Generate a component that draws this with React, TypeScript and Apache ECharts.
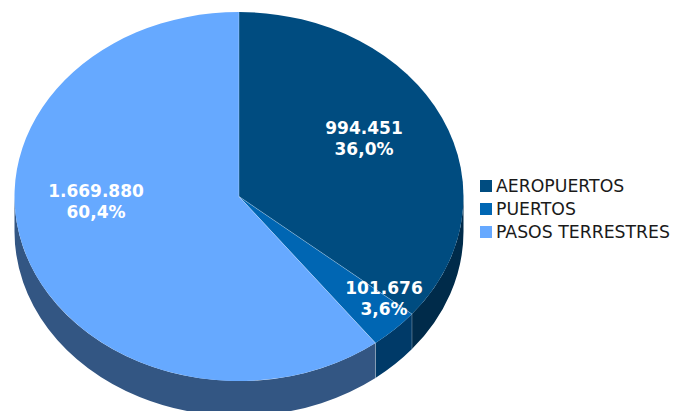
import React, { useEffect, useRef } from "react";
import * as echarts from "echarts";

const categories = ["AEROPUERTOS", "PUERTOS", "PASOS TERRESTRES"];
const values = [994451, 101676, 1669880];
const shares = [36.0, 3.6, 60.4];
const valueLabels = ["994.451", "101.676", "1.669.880"];
const shareLabels = ["36,0%", "3,6%", "60,4%"];
const topColors = ["#004C80", "#0066B3", "#66A9FF"];
const wallColors = ["#002B4A", "#003A68", "#335683"];
const labelAnchors = [
  [364, 138],
  [384, 298],
  [96, 201],
];

const CX = 239;
const CY = 196.5;
const RX = 224.5;
const RY = 184.5;
const DEPTH = 35;
const EDGE = "rgba(255,255,255,0.28)";

const px = (a: number) => CX + RX * Math.sin(a);
const py = (a: number) => CY - RY * Math.cos(a);
const total = shares.reduce((s, v) => s + v, 0);

function sliceAngles(i: number) {
  const before = shares.slice(0, i).reduce((s, v) => s + v, 0);
  return [(before / total) * Math.PI * 2, ((before + shares[i]) / total) * Math.PI * 2];
}

function topPath(a0: number, a1: number) {
  const large = a1 - a0 > Math.PI ? 1 : 0;
  return `M${CX} ${CY}L${px(a0)} ${py(a0)}A${RX} ${RY} 0 ${large} 1 ${px(a1)} ${py(a1)}Z`;
}

function wallPath(a0: number, a1: number) {
  const s = Math.max(a0, Math.PI / 2);
  const e = Math.min(a1, (Math.PI * 3) / 2);
  if (e <= s) return "";
  const large = e - s > Math.PI ? 1 : 0;
  return (
    `M${px(s)} ${py(s)}A${RX} ${RY} 0 ${large} 1 ${px(e)} ${py(e)}` +
    `L${px(e)} ${py(e) + DEPTH}A${RX} ${RY} 0 ${large} 0 ${px(s)} ${py(s) + DEPTH}Z`
  );
}

function renderSlice(i: number) {
  return () => {
    const [a0, a1] = sliceAngles(i);
    const children: any[] = [];
    const wall = wallPath(a0, a1);
    if (wall) {
      children.push({
        type: "path",
        shape: { pathData: wall },
        style: { fill: wallColors[i] },
      });
    }
    children.push({
      type: "path",
      shape: { pathData: topPath(a0, a1) },
      style: { fill: topColors[i] },
    });
    return { type: "group", children };
  };
}

function renderOverlay() {
  const children: any[] = [];
  categories.forEach((_, i) => {
    const [a0] = sliceAngles(i);
    children.push({
      type: "line",
      shape: { x1: CX, y1: CY, x2: px(a0), y2: py(a0) },
      style: { stroke: EDGE, lineWidth: 1 },
    });
    if (a0 > Math.PI / 2 && a0 < (Math.PI * 3) / 2) {
      children.push({
        type: "line",
        shape: { x1: px(a0), y1: py(a0), x2: px(a0), y2: py(a0) + DEPTH },
        style: { stroke: EDGE, lineWidth: 1 },
      });
    }
    const [lx, ly] = labelAnchors[i];
    children.push({
      type: "text",
      x: lx,
      y: ly,
      style: {
        text: `${valueLabels[i]}\n${shareLabels[i]}`,
        fill: "#ffffff",
        font: 'bold 17px "DejaVu Sans"',
        lineHeight: 21,
        align: "center",
        verticalAlign: "middle",
      },
    });
  });
  return { type: "group", children };
}

export default function App() {
  const ref = useRef<HTMLDivElement>(null);
  useEffect(() => {
    document.body.style.margin = "0";
    const chart = echarts.init(ref.current!, undefined, { renderer: "svg" });
    chart.setOption({
      animation: false,
      backgroundColor: "#ffffff",
      legend: {
        orient: "vertical",
        left: 475,
        top: 172,
        itemWidth: 12,
        itemHeight: 12,
        itemGap: 5,
        icon: "rect",
        selectedMode: false,
        data: categories,
        textStyle: {
          fontFamily: "DejaVu Sans",
          fontSize: 17.3,
          color: "#1a1a1a",
          padding: [0, 0, 0, -1],
          lineHeight: 18,
        },
      },
      series: [
        ...categories.map((name, i) => ({
          type: "custom",
          name,
          coordinateSystem: "none",
          itemStyle: { color: topColors[i] },
          data: [values[i]],
          renderItem: renderSlice(i),
          silent: true,
          z: 2,
        })),
        {
          type: "custom",
          name: "overlay",
          coordinateSystem: "none",
          data: [0],
          renderItem: renderOverlay,
          silent: true,
          z: 3,
        },
      ],
    });
    return () => chart.dispose();
  }, []);
  return <div ref={ref} style={{ width: 675, height: 411 }} />;
}
